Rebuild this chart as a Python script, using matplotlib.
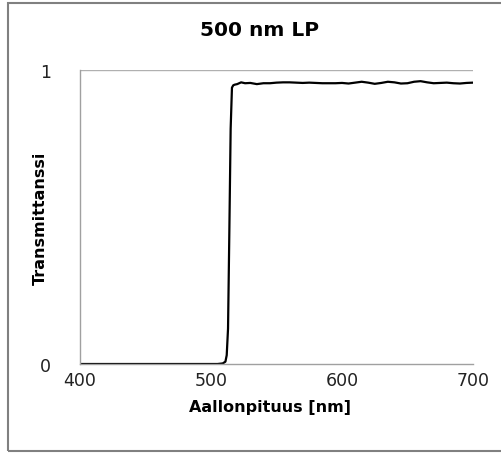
import numpy as np
import matplotlib.pyplot as plt
from matplotlib.patches import Rectangle

# Transmission curve
wavelength = [400, 505, 509, 511, 512, 513, 514, 515, 516, 517, 518, 520, 523,
              526, 530, 535, 540, 545, 550, 555, 560, 565, 570, 575, 580, 585,
              590, 595, 600, 605, 610, 615, 620, 625, 630, 635, 640, 645, 650,
              655, 660, 665, 670, 675, 680, 685, 690, 695, 700]
transmission = [0, 0, 0.002, 0.008, 0.03, 0.12, 0.45, 0.8, 0.94, 0.948, 0.95, 0.952,
                0.958, 0.955, 0.956, 0.952, 0.955, 0.955, 0.957, 0.958, 0.958,
                0.957, 0.956, 0.957, 0.956, 0.955, 0.955, 0.955, 0.956, 0.954,
                0.957, 0.96, 0.957, 0.953, 0.956, 0.96, 0.958, 0.954, 0.955,
                0.96, 0.962, 0.958, 0.955, 0.956, 0.957, 0.955, 0.954, 0.956, 0.957]
xticks = [400, 500, 600, 700]
yticks = [0, 1]

plt.rcParams['font.family'] = ['DejaVu Sans']

W, H = 502, 456
fig = plt.figure(figsize=(W / 100, H / 100), dpi=100)
ax = fig.add_axes([80 / W, 1 - 365 / H, 393 / W, 294 / H])

ax.plot(wavelength, transmission, color="black", lw=1.6, solid_joinstyle="round")

ax.set_xlim(400, 700)
ax.set_ylim(0, 1)
ax.set_xticks(xticks)
ax.set_yticks(yticks)
ax.tick_params(axis="both", length=0, labelsize=12.5, colors="#222222")
ax.tick_params(axis="x", pad=5)
ax.tick_params(axis="y", pad=21)
ax.axhline(1, color="#b0b0b0", lw=1)

for side in ["top", "right"]:
    ax.spines[side].set_visible(False)
for side in ["left", "bottom"]:
    ax.spines[side].set_color("#a0a0a0")
    ax.spines[side].set_linewidth(1)

fig.text(260 / W, 1 - 31 / H, "500 nm LP", fontsize=14.5, fontweight="bold",
         ha="center", va="center")
fig.text(270 / W, 1 - 408 / H, "Aallonpituus [nm]", fontsize=11.5,
         fontweight="bold", ha="center", va="center")
fig.text(40 / W, 1 - 218 / H, "Transmittanssi", fontsize=11.5,
         fontweight="bold", ha="center", va="center", rotation=90)

# outer chart border
fig.patches.append(Rectangle((8 / W, 4 / H), 1.0, 448 / H,
                             transform=fig.transFigure, fill=False,
                             edgecolor="#808080", lw=1.5))

fig.savefig("out.png", dpi=100)
